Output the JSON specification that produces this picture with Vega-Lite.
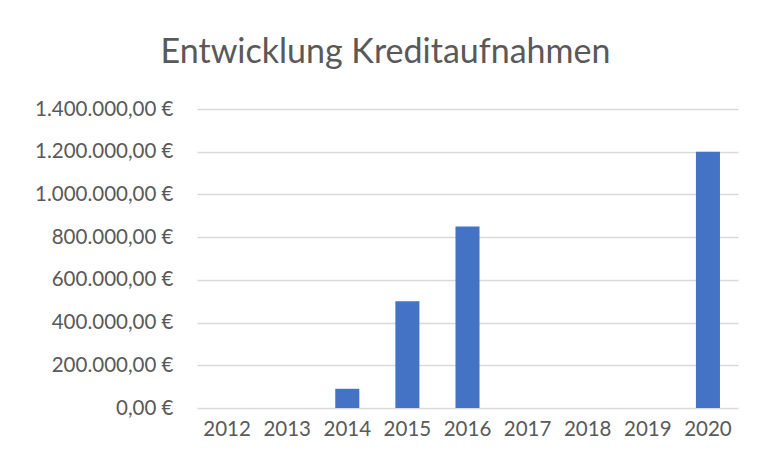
{
  "$schema": "https://vega.github.io/schema/vega-lite/v6.json",
  "width": 541,
  "height": 299,
  "autosize": "none",
  "padding": {"left": 197, "top": 109, "right": 22, "bottom": 53},
  "background": "white",
  "title": {
    "text": "Entwicklung Kreditaufnahmen",
    "font": "Lato",
    "fontSize": 34,
    "fontWeight": "normal",
    "color": "#595959",
    "anchor": "middle",
    "dx": -82,
    "offset": 29
  },
  "config": {
    "locale": {
      "number": {"decimal": ",", "thousands": ".", "grouping": [3], "currency": ["", " €"]}
    },
    "view": {"stroke": null},
    "axis": {
      "labelFont": "Lato",
      "labelColor": "#595959",
      "labelFontSize": 20.5,
      "ticks": false,
      "title": null
    }
  },
  "data": {
    "values": [
      {"year": "2012", "amount": 0},
      {"year": "2013", "amount": 0},
      {"year": "2014", "amount": 90000},
      {"year": "2015", "amount": 500000},
      {"year": "2016", "amount": 850000},
      {"year": "2017", "amount": 0},
      {"year": "2018", "amount": 0},
      {"year": "2019", "amount": 0},
      {"year": "2020", "amount": 1200000}
    ]
  },
  "mark": {"type": "bar", "color": "#4472C4"},
  "encoding": {
    "x": {
      "field": "year",
      "type": "ordinal",
      "scale": {"paddingInner": 0.6, "paddingOuter": 0.3},
      "axis": {
        "labelAngle": 0,
        "domain": false,
        "grid": false,
        "labelPadding": 11
      }
    },
    "y": {
      "field": "amount",
      "type": "quantitative",
      "scale": {"domain": [0, 1400000], "nice": false},
      "axis": {
        "values": [0, 200000, 400000, 600000, 800000, 1000000, 1200000, 1400000],
        "format": "$,.2f",
        "domain": false,
        "grid": true,
        "gridColor": "#d9d9d9",
        "gridWidth": 1.3,
        "labelPadding": 24
      }
    }
  }
}
